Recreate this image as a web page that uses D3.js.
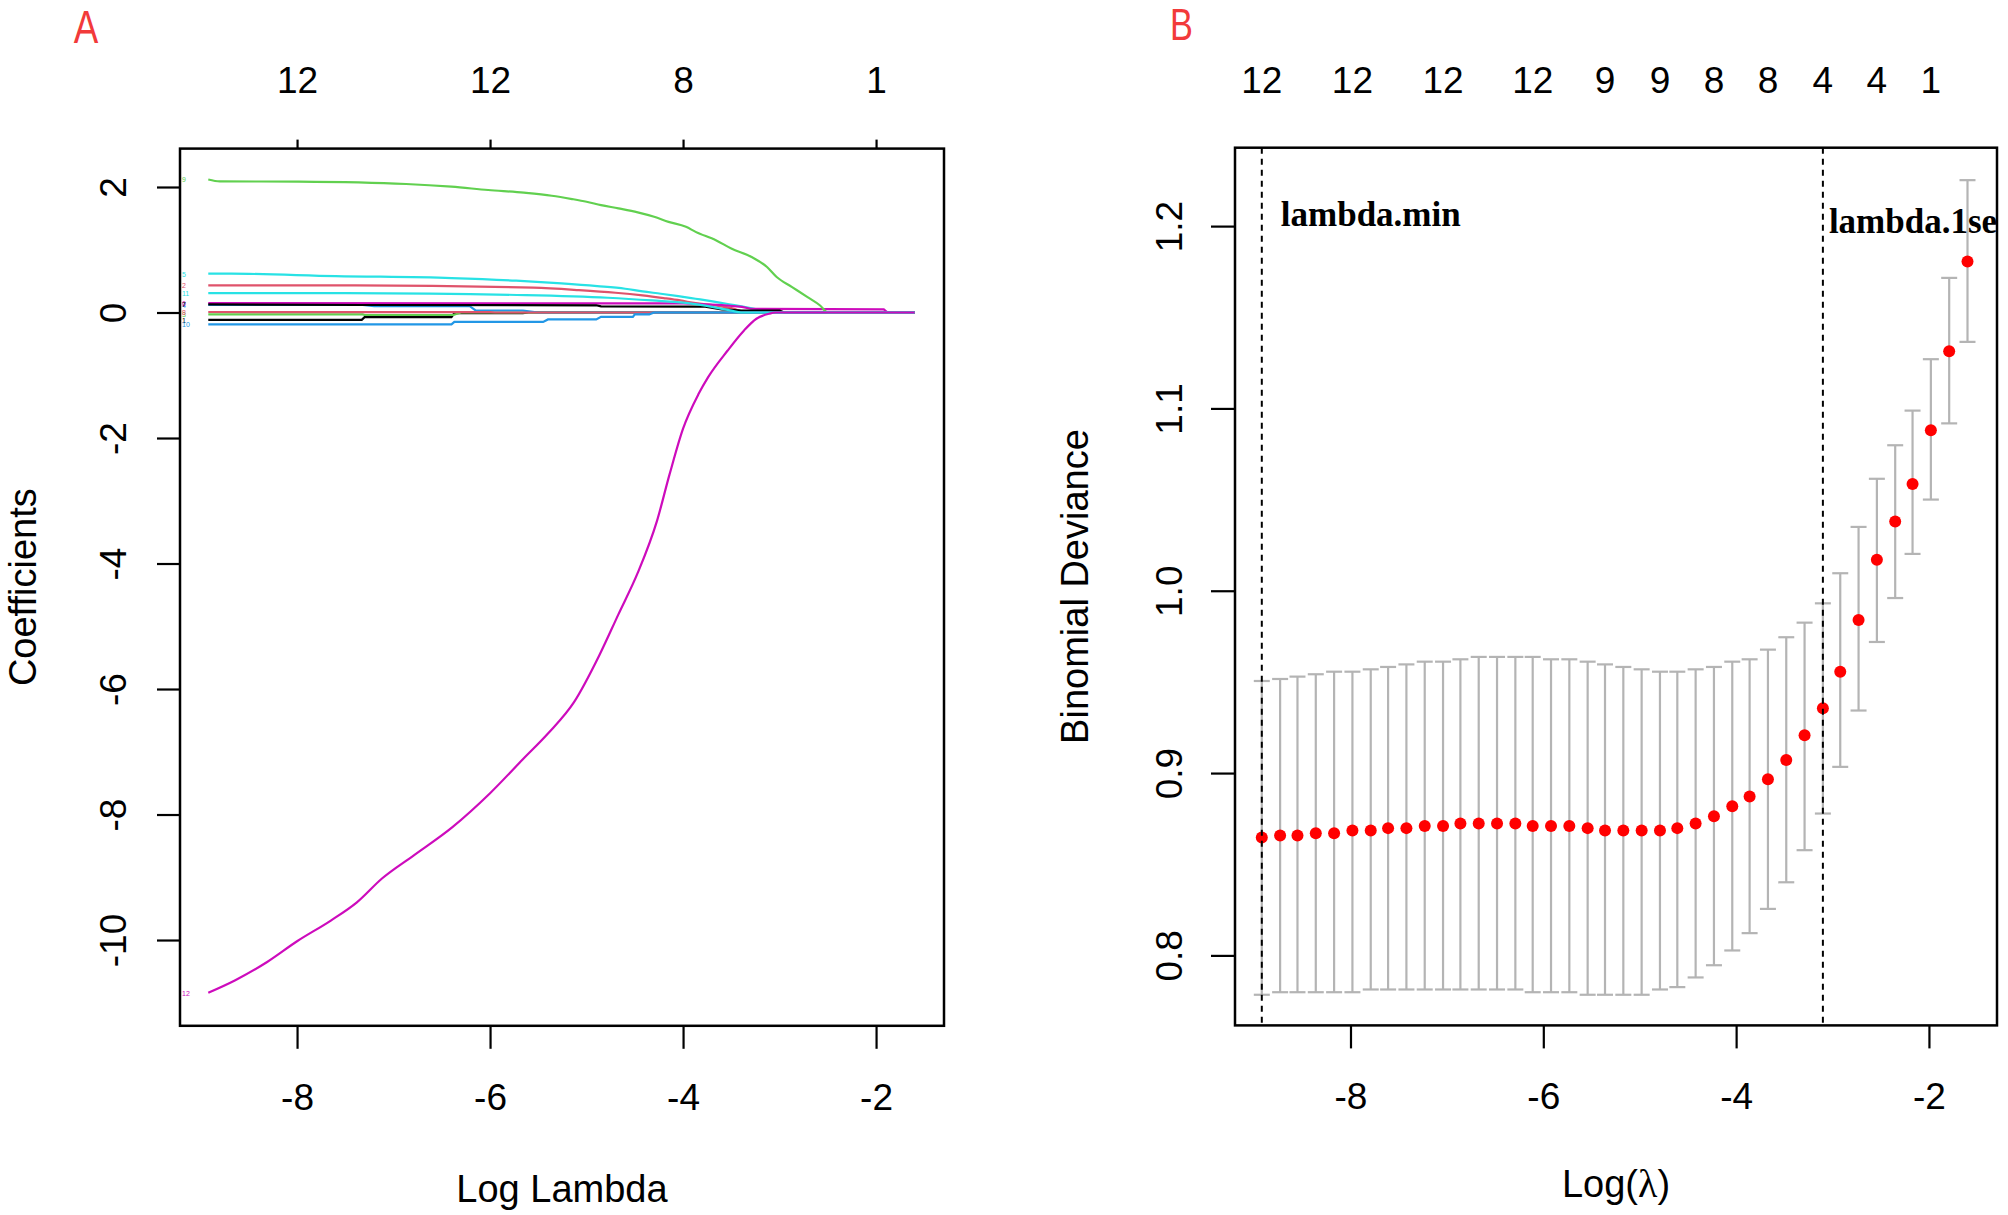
<!DOCTYPE html>
<html><head><meta charset="utf-8">
<script src="https://cdn.jsdelivr.net/npm/d3@7"></script>
<style>body{margin:0;background:#fff;} svg{display:block;background:#fff;}</style>
</head><body><svg id="c" width="2008" height="1215"></svg>
<script>
// ---------- Panel A data (coefficient paths, [logLambda, coefficient]) ----------
const xTicksA = [-8, -6, -4, -2];
const topLabelsA = ["12", "12", "8", "1"];
const yTicksA = [2, 0, -2, -4, -6, -8, -10];

const varColors = ["#000000", "#DF536B", "#61D04F", "#2297E6", "#28E2E5", "#CD0BBC",
                   "#000000", "#DF536B", "#61D04F", "#2297E6", "#28E2E5", "#CD0BBC"];

const coef1 = [[-8.92,-0.117],[-7.33,-0.117],[-7.30,-0.075],[-6.40,-0.075],[-6.37,-0.01],[-5.66,-0.01],[-5.60,0],[-1.60,0]];
const coef2 = [[-8.92,0.432],[-7.40,0.432],[-5.55,0.395],[-5.08,0.357],[-4.70,0.315],[-4.42,0.272],[-4.20,0.229],[-4.03,0.192],[-3.87,0.149],[-3.67,0.112],[-3.47,0.06],[-3.35,0],[-1.60,0]];
const coef3 = [[-8.92,-0.03],[-7.32,-0.03],[-7.30,-0.04],[-6.38,-0.04],[-6.30,0],[-1.60,0]];
const coef4 = [[-8.92,0.123],[-7.32,0.123],[-7.20,0.10],[-6.21,0.10],[-6.15,0.032],[-5.66,0.032],[-5.50,0],[-1.60,0]];
const coef5 = [[-8.92,0.62],[-8.68,0.619],[-7.60,0.581],[-6.40,0.549],[-5.73,0.507],[-5.26,0.464],[-4.89,0.421],[-4.60,0.379],[-4.42,0.336],[-4.23,0.299],[-4.05,0.261],[-3.87,0.219],[-3.71,0.181],[-3.55,0.139],[-3.38,0.096],[-3.20,0.04],[-3.05,0],[-1.60,0]];
const coef6 = [[-8.92,0.15],[-4.00,0.145],[-3.60,0.12],[-3.39,0.09],[-3.30,0.06],[-2.50,0.055],[-1.92,0.05],[-1.88,0],[-1.60,0]];
const coef7 = [[-8.92,0.13],[-7.32,0.12],[-4.90,0.115],[-4.85,0.097],[-3.77,0.095],[-3.60,0.05],[-3.39,0.03],[-3.00,0.03],[-2.95,0],[-1.60,0]];
const coef8 = [[-8.92,0.008],[-6.00,0.005],[-5.95,0],[-1.60,0]];
const coef9 = [[-8.92,2.12],[-8.80,2.09],[-7.98,2.085],[-6.87,2.048],[-6.40,2.005],[-6.02,1.952],[-5.65,1.909],[-5.36,1.861],[-5.15,1.808],[-5.00,1.765],[-4.85,1.712],[-4.67,1.659],[-4.47,1.595],[-4.30,1.525],[-4.15,1.445],[-3.97,1.365],[-3.87,1.285],[-3.66,1.152],[-3.50,1.019],[-3.29,0.885],[-3.13,0.725],[-3.03,0.565],[-2.87,0.405],[-2.71,0.245],[-2.58,0.112],[-2.50,0],[-1.60,0]];
const coef10 = [[-8.92,-0.19],[-6.40,-0.19],[-6.37,-0.15],[-5.45,-0.15],[-5.40,-0.11],[-4.90,-0.11],[-4.85,-0.07],[-4.52,-0.07],[-4.50,-0.03],[-4.35,-0.03],[-4.30,0],[-1.60,0]];
const coef11 = [[-8.92,0.31],[-7.50,0.309],[-5.63,0.277],[-4.78,0.235],[-4.32,0.192],[-3.95,0.149],[-3.70,0.09],[-3.50,0.03],[-3.40,0],[-1.60,0]];
const coef12 = [[-8.92,-10.84],[-8.64,-10.64],[-8.31,-10.35],[-8.00,-10.02],[-7.65,-9.69],[-7.38,-9.40],[-7.12,-9.02],[-6.79,-8.65],[-6.39,-8.20],[-6.00,-7.66],[-5.66,-7.12],[-5.40,-6.71],[-5.13,-6.21],[-4.87,-5.47],[-4.67,-4.81],[-4.47,-4.15],[-4.27,-3.32],[-4.14,-2.58],[-4.00,-1.85],[-3.84,-1.30],[-3.74,-1.03],[-3.54,-0.61],[-3.37,-0.29],[-3.24,-0.10],[-3.11,-0.02],[-3.04,0],[-1.60,0]];
const coefPaths = [coef1, coef2, coef3, coef4, coef5, coef6, coef7, coef8, coef9, coef10, coef11, coef12];
const smoothPaths = [false, true, false, false, true, false, false, false, true, false, true, true];

// ---------- Panel B data (cross-validation curve) ----------
const logLambda = [-8.92,-8.73,-8.55,-8.36,-8.17,-7.98,-7.79,-7.61,-7.42,-7.23,
                   -7.04,-6.86,-6.67,-6.48,-6.29,-6.11,-5.92,-5.73,-5.54,-5.36,
                   -5.17,-4.98,-4.79,-4.61,-4.42,-4.23,-4.04,-3.86,-3.67,-3.48,
                   -3.29,-3.10,-2.92,-2.73,-2.54,-2.35,-2.17,-1.98,-1.79,-1.60];
const cvm  = [0.8646,0.8658,0.8658,0.8670,0.8670,0.8685,0.8685,0.8698,0.8698,0.8710,
              0.8710,0.8723,0.8723,0.8723,0.8723,0.8710,0.8710,0.8710,0.8698,0.8685,
              0.8685,0.8685,0.8685,0.8698,0.8723,0.8763,0.8818,0.8871,0.8966,0.9072,
              0.9207,0.9356,0.9556,0.9840,1.0170,1.0380,1.0585,1.0880,1.1313,1.1806];
const cvup = [0.9505,0.9516,0.9529,0.9542,0.9556,0.9556,0.9569,0.9582,0.9596,0.9611,
              0.9611,0.9624,0.9637,0.9637,0.9637,0.9637,0.9624,0.9624,0.9611,0.9596,
              0.9582,0.9569,0.9556,0.9556,0.9569,0.9582,0.9611,0.9624,0.9677,0.9745,
              0.9825,0.9931,1.0096,1.0350,1.0614,1.0798,1.0988,1.1270,1.1716,1.2252];
const cvlo = [0.7784,0.7798,0.7798,0.7798,0.7798,0.7798,0.7813,0.7813,0.7813,0.7813,
              0.7813,0.7813,0.7813,0.7813,0.7813,0.7798,0.7798,0.7798,0.7784,0.7784,
              0.7784,0.7784,0.7813,0.7826,0.7879,0.7946,0.8027,0.8122,0.8255,0.8401,
              0.8577,0.8778,0.9034,0.9343,0.9719,0.9960,1.0202,1.0500,1.0918,1.1365];
const nzeroIdx = [0, 5, 10, 15, 19, 22, 25, 28, 31, 34, 37];
const nzeroLabels = ["12", "12", "12", "12", "9", "9", "8", "8", "4", "4", "1"];
const xTicksB = [-8, -6, -4, -2];
const yTicksB = [0.8, 0.9, 1.0, 1.1, 1.2];
const lambdaMinIdx = 0;
const lambda1seIdx = 31;

// ---------- drawing ----------
const svg = d3.select("#c");
const FONT = "'Liberation Sans', Arial, Helvetica, sans-serif";
const TICKFS = 37;

function styleAxis(g) {
  g.attr("font-family", FONT).attr("font-size", TICKFS);
  g.select(".domain").remove();
  g.selectAll(".tick line").attr("stroke", "#000").attr("stroke-width", 2.2);
  g.selectAll(".tick text").attr("fill", "#000");
}

// ----- Panel A -----
const boxA = {l: 180, r: 944, t: 148.6, b: 1025.8};
const xA = d3.scaleLinear().domain([-9.213, -1.296]).range([boxA.l, boxA.r]);
const yA = d3.scaleLinear().domain([-11.367, 2.612]).range([boxA.b, boxA.t]);

const gA = svg.append("g");
const lineA = d3.line().x(d => xA(d[0])).y(d => yA(d[1]));
const lineAs = d3.line().x(d => xA(d[0])).y(d => yA(d[1])).curve(d3.curveMonotoneX);
coefPaths.forEach((p, i) => {
  gA.append("path").attr("d", (smoothPaths[i] ? lineAs : lineA)(p)).attr("fill", "none")
    .attr("stroke", varColors[i]).attr("stroke-width", 2.2);
});
// tiny variable labels at left edge
coefPaths.forEach((p, i) => {
  gA.append("text").attr("x", boxA.l + 2).attr("y", yA(p[0][1]) + 3)
    .attr("font-family", FONT).attr("font-size", 7).attr("fill", varColors[i])
    .text(i + 1);
});

gA.append("g").attr("transform", `translate(0,${boxA.b})`)
  .call(d3.axisBottom(xA).tickValues(xTicksA).tickSize(23).tickFormat(d => String(d)))
  .call(styleAxis)
  .call(g => g.selectAll(".tick text").attr("y", 84).attr("dy", 0));
gA.append("g").attr("transform", `translate(0,${boxA.t})`)
  .call(d3.axisTop(xA).tickValues(xTicksA).tickSize(9).tickFormat((d, i) => topLabelsA[i]))
  .call(styleAxis)
  .call(g => g.selectAll(".tick text").attr("y", 93 - boxA.t).attr("dy", 0));
gA.append("g").attr("transform", `translate(${boxA.l},0)`)
  .call(d3.axisLeft(yA).tickValues(yTicksA).tickSize(23).tickFormat(d => String(d)))
  .call(styleAxis)
  .call(g => g.selectAll(".tick text").attr("x", 0).attr("dy", 0)
    .attr("text-anchor", "middle").attr("transform", "translate(-54,0) rotate(-90)"));
gA.append("rect").attr("x", boxA.l).attr("y", boxA.t)
  .attr("width", boxA.r - boxA.l).attr("height", boxA.b - boxA.t)
  .attr("fill", "none").attr("stroke", "#000").attr("stroke-width", 2.5);

gA.append("text").attr("x", (boxA.l + boxA.r) / 2).attr("y", 1202)
  .attr("text-anchor", "middle").attr("font-family", FONT).attr("font-size", 38).text("Log Lambda");
gA.append("text").attr("transform", `translate(36,${(boxA.t + boxA.b) / 2}) rotate(-90)`)
  .attr("text-anchor", "middle").attr("font-family", FONT).attr("font-size", 38).text("Coefficients");
svg.append("text").attr("transform", "translate(86,43) scale(0.8,1)")
  .attr("text-anchor", "middle").attr("font-family", FONT).attr("font-size", 46)
  .attr("fill", "#F23A3A").text("A");

// ----- Panel B -----
const boxB = {l: 1235, r: 1997, t: 147.7, b: 1025.4};
const xB = d3.scaleLinear().domain([-9.198, -1.294]).range([boxB.l, boxB.r]);
const yB = d3.scaleLinear().domain([0.7616, 1.243]).range([boxB.b, boxB.t]);
const gB = svg.append("g");

const cvData = logLambda.map((x, i) => ({x, m: cvm[i], up: cvup[i], lo: cvlo[i]}));
const eb = gB.append("g").attr("stroke", "#B4B4B4").attr("stroke-width", 2.2);
cvData.forEach(d => {
  const cx = xB(d.x);
  eb.append("line").attr("x1", cx).attr("x2", cx).attr("y1", yB(d.lo)).attr("y2", yB(d.up));
  eb.append("line").attr("x1", cx - 8).attr("x2", cx + 8).attr("y1", yB(d.up)).attr("y2", yB(d.up));
  eb.append("line").attr("x1", cx - 8).attr("x2", cx + 8).attr("y1", yB(d.lo)).attr("y2", yB(d.lo));
});
gB.append("g").selectAll("circle").data(cvData).join("circle")
  .attr("cx", d => xB(d.x)).attr("cy", d => yB(d.m)).attr("r", 6).attr("fill", "#FF0000");

gB.append("g").attr("transform", `translate(0,${boxB.b})`)
  .call(d3.axisBottom(xB).tickValues(xTicksB).tickSize(23).tickFormat(d => String(d)))
  .call(styleAxis)
  .call(g => g.selectAll(".tick text").attr("y", 84).attr("dy", 0));
gB.append("g").attr("transform", `translate(${boxB.l},0)`)
  .call(d3.axisLeft(yB).tickValues(yTicksB).tickSize(24).tickFormat(d3.format(".1f")))
  .call(styleAxis)
  .call(g => g.selectAll(".tick text").attr("x", 0).attr("dy", 0)
    .attr("text-anchor", "middle").attr("transform", "translate(-53,0) rotate(-90)"));
// top axis: number of nonzero coefficients (no ticks)
gB.append("g").selectAll("text").data(nzeroIdx).join("text")
  .attr("x", i => xB(logLambda[i])).attr("y", 93)
  .attr("text-anchor", "middle").attr("font-family", FONT).attr("font-size", TICKFS)
  .text((d, k) => nzeroLabels[k]);

// dotted lambda lines
[lambdaMinIdx, lambda1seIdx].forEach(i => {
  gB.append("line").attr("x1", xB(logLambda[i])).attr("x2", xB(logLambda[i]))
    .attr("y1", boxB.t).attr("y2", boxB.b)
    .attr("stroke", "#000").attr("stroke-width", 2).attr("stroke-dasharray", "6,5");
});
gB.append("rect").attr("x", boxB.l).attr("y", boxB.t)
  .attr("width", boxB.r - boxB.l).attr("height", boxB.b - boxB.t)
  .attr("fill", "none").attr("stroke", "#000").attr("stroke-width", 2.5);

const SERIF = "'Liberation Serif', 'Times New Roman', serif";
gB.append("text").attr("x", xB(logLambda[lambdaMinIdx]) + 19).attr("y", 226)
  .attr("font-family", SERIF).attr("font-weight", "bold").attr("font-size", 35).text("lambda.min");
gB.append("text").attr("x", xB(logLambda[lambda1seIdx]) + 6).attr("y", 233)
  .attr("font-family", SERIF).attr("font-weight", "bold").attr("font-size", 35).text("lambda.1se");

gB.append("text").attr("transform", `translate(1088,${(boxB.t + boxB.b) / 2}) rotate(-90)`)
  .attr("text-anchor", "middle").attr("font-family", FONT).attr("font-size", 38).text("Binomial Deviance");
const lt = gB.append("text").attr("x", (boxB.l + boxB.r) / 2).attr("y", 1197)
  .attr("text-anchor", "middle").attr("font-family", FONT).attr("font-size", 38);
lt.append("tspan").text("Log(");
lt.append("tspan").attr("font-family", SERIF).attr("font-size", 40).text("λ");
lt.append("tspan").text(")");
svg.append("text").attr("transform", "translate(1181.5,40) scale(0.78,1)")
  .attr("text-anchor", "middle").attr("font-family", FONT).attr("font-size", 44)
  .attr("fill", "#F23A3A").text("B");
</script></body></html>
